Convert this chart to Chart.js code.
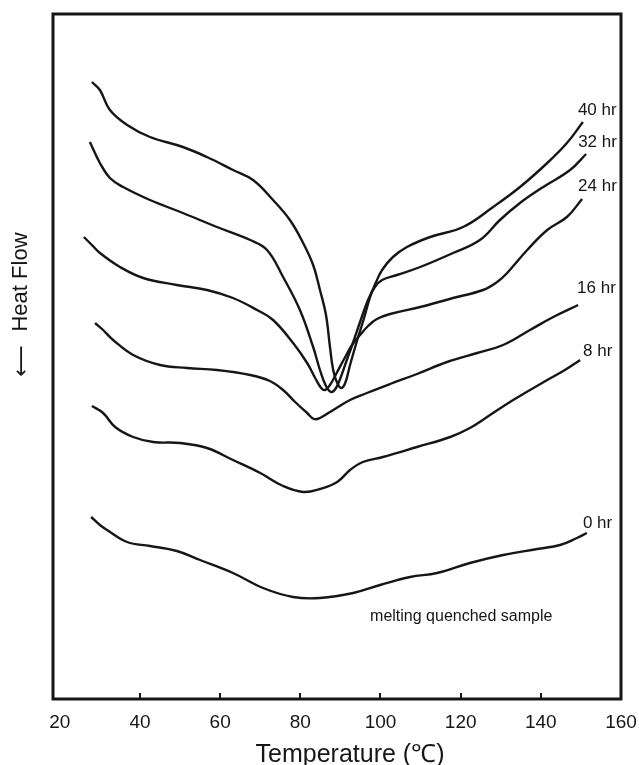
<!DOCTYPE html>
<html>
<head>
<meta charset="utf-8">
<script src="https://cdn.jsdelivr.net/npm/chart.js@4"></script>
<style>
  html, body { margin: 0; padding: 0; background: #fff; }
  #wrap { width: 639px; height: 765px; }
</style>
</head>
<body>
<div id="wrap"><canvas id="dsc" width="639" height="765"></canvas></div>
<script>
// ----- Data (temperature in degC, heat flow in arbitrary units, endo down) -----

const xTicks = [20, 40, 60, 80, 100, 120, 140, 160];

const t40  = [28.0, 30.0, 32.5, 36.8, 42.5, 50.7, 56.7, 63.2, 68.2, 73.2, 77.4, 80.7, 83.2, 84.9, 86.4, 87.4, 88.2, 89.2, 90.2, 91.2, 92.4, 94.2, 95.9, 97.4, 98.9, 100.4, 103.1, 106.6, 112.4, 120.6, 128.1, 134.8, 141.6, 146.5, 150.5];
const hf40 = [617, 609, 589, 574, 562, 552, 542, 529, 519, 499, 479, 456, 434, 409, 384, 352, 329, 316, 311, 316, 334, 359, 381, 402, 417, 429, 442, 452, 462, 472, 492, 512, 536, 556, 577];

const t32  = [27.5, 30.0, 32.5, 35.8, 42.5, 50.7, 59.2, 67.5, 71.7, 75.7, 79.9, 83.2, 84.9, 86.4, 87.7, 88.9, 90.2, 91.6, 93.2, 94.9, 96.9, 98.6, 100.4, 104.1, 109.9, 118.1, 124.8, 129.8, 134.8, 140.6, 147.3, 151.3];
const hf32 = [557, 536, 521, 512, 499, 486, 472, 459, 449, 422, 389, 352, 329, 313, 307, 311, 323, 339, 357, 377, 399, 412, 419, 424, 432, 446, 459, 479, 496, 512, 529, 545];

const t24  = [26.0, 28.0, 30.0, 35.0, 40.8, 49.2, 56.7, 63.2, 69.2, 73.2, 78.2, 81.7, 83.7, 85.2, 86.2, 87.4, 89.2, 91.2, 92.9, 94.9, 96.9, 99.1, 102.4, 109.9, 118.1, 125.6, 129.1, 131.6, 136.6, 141.6, 146.5, 150.3];
const hf24 = [462, 454, 446, 432, 421, 414, 409, 401, 389, 379, 356, 336, 321, 311, 309, 314, 327, 342, 354, 364, 373, 380, 385, 392, 401, 409, 417, 426, 449, 469, 482, 500];

const t16  = [28.8, 30.8, 33.3, 38.3, 45.0, 51.7, 59.2, 67.5, 72.4, 75.7, 78.7, 81.7, 83.4, 84.9, 87.4, 92.4, 96.6, 102.4, 109.1, 116.6, 124.1, 130.6, 137.3, 143.1, 149.3];
const hf16 = [376, 369, 359, 344, 334, 331, 329, 324, 318, 309, 297, 286, 280, 281, 287, 299, 306, 315, 325, 337, 346, 354, 369, 382, 394];

const t8   = [28.0, 30.8, 33.8, 38.3, 43.3, 50.0, 56.7, 63.2, 70.0, 75.7, 80.7, 84.9, 89.2, 92.4, 95.6, 100.6, 109.1, 117.4, 122.3, 126.6, 133.1, 141.6, 146.0, 149.8];
const hf8  = [293, 286, 272, 262, 257, 256, 251, 239, 226, 213, 207, 210, 217, 229, 237, 242, 252, 262, 271, 282, 299, 319, 329, 339];

const t0   = [27.8, 30.0, 31.8, 36.8, 42.5, 49.2, 55.0, 63.2, 70.7, 78.2, 84.9, 93.2, 99.9, 107.4, 114.1, 122.3, 130.6, 139.1, 144.8, 149.0, 151.5];
const hf0  = [182, 174, 169, 157, 153, 148, 139, 126, 111, 102, 101, 106, 114, 122, 126, 136, 144, 150, 154, 161, 166];

const seriesNames = ['40 hr', '32 hr', '24 hr', '16 hr', '8 hr', '0 hr'];
const seriesT  = [t40, t32, t24, t16, t8, t0];
const seriesHF = [hf40, hf32, hf24, hf16, hf8, hf0];

const noteText = 'melting quenched sample';
const notePos  = [97.4, 78];

const xTitle = 'Temperature (\u2103)';
const yTitle = 'Heat Flow';
const yArrow = '\u27F5';

// ----- Helpers -----

const FONT = '"Liberation Sans", Arial, Helvetica, sans-serif';
const INK = '#161616';

const toPoints = (ts, hs) => ts.map((t, i) => ({ x: t, y: hs[i] }));

// label offset from each curve's last point, px
const labelOffsets = [[-5, -7], [-8, -7], [-4, -8], [-1, -12], [3, -4], [-4, -5]];

const framePlugin = {
  id: 'frame',
  afterDatasetsDraw(chart) {
    const { ctx, chartArea: a, scales } = chart;
    ctx.save();
    ctx.strokeStyle = INK;
    ctx.lineWidth = 3;
    ctx.strokeRect(a.left, a.top, a.right - a.left, a.bottom - a.top);
    // inward tick marks on the bottom axis
    ctx.lineWidth = 2;
    xTicks.slice(1, -1).forEach(v => {
      const px = Math.round(scales.x.getPixelForValue(v));
      ctx.beginPath();
      ctx.moveTo(px, a.bottom);
      ctx.lineTo(px, a.bottom - 6);
      ctx.stroke();
    });
    ctx.restore();
  },
};

const textPlugin = {
  id: 'curveText',
  afterDraw(chart) {
    const { ctx, scales, chartArea: a } = chart;
    ctx.save();
    ctx.fillStyle = INK;
    ctx.font = '17px ' + FONT;
    ctx.textAlign = 'left';
    ctx.textBaseline = 'alphabetic';
    chart.data.datasets.forEach((ds, i) => {
      const last = ds.data[ds.data.length - 1];
      const px = scales.x.getPixelForValue(last.x);
      const py = scales.y.getPixelForValue(last.y);
      ctx.fillText(ds.label, px + labelOffsets[i][0], py + labelOffsets[i][1]);
    });
    ctx.font = '16px ' + FONT;
    ctx.fillText(noteText, scales.x.getPixelForValue(notePos[0]), scales.y.getPixelForValue(notePos[1]));

    // x axis title (sits a little right of centre in the original)
    ctx.font = '25px ' + FONT;
    ctx.textAlign = 'center';
    ctx.fillText(xTitle, (a.left + a.right) / 2 + 13, 762);

    // y axis title, rotated, with the arrow below it
    ctx.textBaseline = 'middle';
    ctx.translate(21, 0);
    ctx.rotate(-Math.PI / 2);
    ctx.font = '22px ' + FONT;
    ctx.fillText(yTitle, -282, 0);
    ctx.font = '22px "DejaVu Sans", sans-serif';
    ctx.fillText(yArrow, -361, 1);
    ctx.restore();
  },
};

// ----- Chart -----

new Chart(document.getElementById('dsc'), {
  type: 'line',
  data: {
    datasets: seriesNames.map((name, i) => ({
      label: name,
      data: toPoints(seriesT[i], seriesHF[i]),
      borderColor: INK,
      borderWidth: 2.4,
      pointRadius: 0,
      fill: false,
      tension: 0.4,
    })),
  },
  options: {
    responsive: false,
    animation: false,
    layout: { padding: { left: 0, right: 18, top: 14, bottom: 0 } },
    plugins: {
      legend: { display: false },
      tooltip: { enabled: false },
    },
    scales: {
      x: {
        type: 'linear',
        min: 18.3,
        max: 160,
        afterBuildTicks: axis => { axis.ticks = xTicks.map(v => ({ value: v })); },
        afterFit: s => {
          s.height = 66;
          s.paddingLeft = 0;
          s.paddingRight = 0;
        },
        grid: { display: false, drawTicks: false },
        border: { display: false },
        ticks: {
          color: INK,
          padding: 12,
          maxRotation: 0,
          autoSkip: false,
          font: { family: FONT, size: 19 },
        },
      },
      y: {
        type: 'linear',
        min: 0,
        max: 685,
        afterFit: s => { s.width = 53; },
        ticks: { display: false },
        grid: { display: false },
        border: { display: false },
      },
    },
  },
  plugins: [framePlugin, textPlugin],
});
</script>
</body>
</html>
